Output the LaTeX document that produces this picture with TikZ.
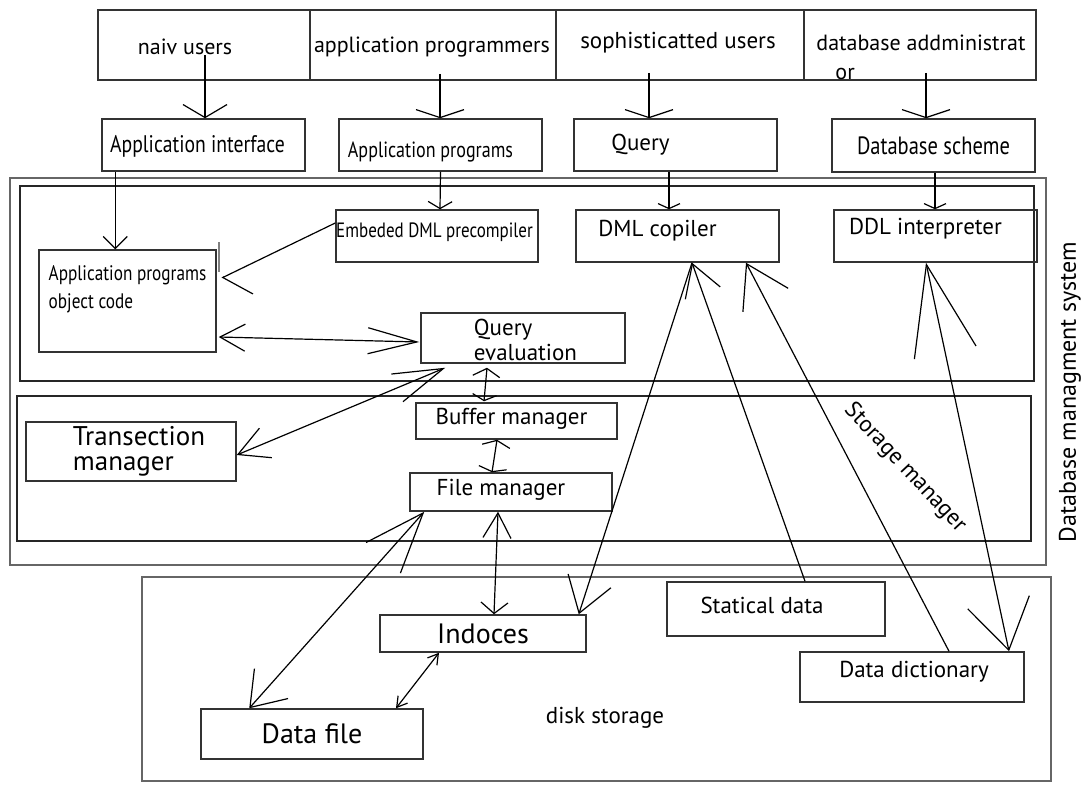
\documentclass[tikz,border=0pt]{standalone}
\usepackage{fontspec}
\setmainfont{PT Sans}
\newfontfamily\narrowfont{PT Sans}[FakeStretch=0.82]
\usetikzlibrary{arrows.meta,calc}

\begin{document}
\begin{tikzpicture}[x=1pt, y=-1pt,
    box/.style 2 args={draw=black!80, line width=1.5pt, minimum width=#1pt, minimum height=#2pt, inner sep=0pt},
    frame/.style={draw=black!60, line width=1.6pt},
    link/.style={line width=1.2pt},
    v/.style 2 args={link, -{Straight Barb[length=#1pt,width=#2pt]}},
    vv/.style n args={4}{link, {Straight Barb[length=#1pt,width=#2pt]}-{Straight Barb[length=#3pt,width=#4pt]}},
    nar/.style={font=\narrowfont\fontsize{#1}{28}\selectfont},
    big/.style={font=\fontsize{#1}{25}\selectfont},
    font=\fontsize{23}{25}\selectfont]
    \useasboundingbox (0,0) rectangle (1083,787);
    \fill[white] (0,0) rectangle (1083,787);

    % frames
    \draw[frame] (10,178) rectangle (1046,565);
    \draw[frame, draw=black!85, line width=1.3pt] (20,186) rectangle (1034,381);
    \draw[frame, draw=black!85, line width=1.3pt] (17,396) rectangle (1031,541);
    \draw[frame] (142,577) rectangle (1051,781);

    % users
    \node[box={212}{70}, label={[font=\fontsize{22}{25}\selectfont,xshift=-19pt,yshift=-2pt]center:naiv users}] (naiv) at (204,45) {};
    \node[box={246}{70}, label={[font=\fontsize{22}{25}\selectfont,xshift=-1pt,yshift=-2pt]center:application programmers}] (prog) at (433,45) {};
    \node[box={248}{70}, label={[xshift=-2pt,yshift=2pt]center:sophisticatted users}] (soph) at (680,45) {};
    \node[box={232}{70}, label={[align=left,font=\fontsize{22}{29}\selectfont,xshift=1pt,yshift=-12.5pt]center:database addministrat\\\hspace*{19pt}or}] (dba) at (920,45) {};

    % first row
    \node[box={203}{52}, label={[nar=24,xshift=-6pt,yshift=-1pt]center:Application interface}] (ai) at (203.5,145) {};
    \node[box={203}{52}, label={[nar=22,xshift=-10pt,yshift=-7pt]center:Application programs}] (ap) at (440.5,145) {};
    \node[box={203}{52}, label={[xshift=-35pt]center:Query}] (qry) at (675.5,145) {};
    \node[box={203}{53}, nar=25] (dbs) at (933.5,145.5) {Database scheme};

    % query processor
    \node[box={202}{52}, label={[nar=20.7,xshift=-2.5pt,yshift=4pt]center:Embeded DML precompiler}] (emb) at (437,236) {};
    \node[box={203}{52}, label={[xshift=-20pt,yshift=5pt]center:DML copiler}] (dmlc) at (677.5,236) {};
    \node[box={203}{52}, label={[xshift=-10pt,yshift=7pt]center:DDL interpreter}] (ddl) at (935.5,236) {};
    \node[box={177}{102}, label={[nar=21,align=left,yshift=12pt]center:Application programs\\object code}] (obj) at (127.5,301) {};
    \node[box={204}{50}, label={[align=left,xshift=2.5pt,yshift=-1.5pt]center:Query\\evaluation}] (qe) at (523,338) {};

    % storage manager
    \node[box={201}{36}, label={[xshift=-5pt,yshift=2pt]center:Buffer manager}] (buf) at (516.5,421) {};
    \node[box={210}{59}, label={[big=27,align=left,xshift=8pt]center:Transection\\manager}] (trn) at (131,451.5) {};
    \node[box={202}{38}, label={[xshift=-10pt,yshift=2pt]center:File manager}] (fil) at (511,492) {};

    % disk storage
    \node[box={206}{37}, big=28] (idx) at (483,633.5) {Indoces};
    \node[box={222}{50}, big=28] (dfile) at (312,734) {Data file};
    \node[box={218}{54}, label={[xshift=-14pt,yshift=4pt]center:Statical data}] (stat) at (776,609) {};
    \node[box={224}{50}, label={[xshift=2pt,yshift=5pt]center:Data dictionary}] (ddict) at (912,677) {};

    \node (dsk) at (605,718) {disk storage};
    \node[rotate=-47] (stm) at (905,468) {Storage manager};
    \node[rotate=90, font=\fontsize{24}{25}\selectfont] (dbms) at (1070,392) {Database managment system};

    % small mark on the object code box
    \draw[line width=2.5pt, black!50] ($(obj.north east)+(2,-7)$) -- ($(obj.north east)+(2,23)$);

    % users to interfaces
    \draw[v={13}{44}] ($(naiv.center)+(1,10)$) -- ($(ai.north)+(1.5,0)$);
    \draw[v={8}{48}] ($(prog.south)+(7,-7)$) -- ($(ap.north)+(-0.5,0)$);
    \draw[v={8}{48}] ($(soph.south)+(-31,-8)$) -- ($(qry.north)+(-26.5,0)$);
    \draw[v={8}{48}] ($(dba.south)+(6,-8)$) -- ($(dbs.north)+(-7.5,0)$);

    % interfaces to query processor
    \draw[v={12}{24}] ($(ai.south west)+(14,0)$) -- ($(obj.north west)+(77,0)$);
    \draw[v={7}{24}] (ap.south) -- ($(emb.north)+(3,0)$);
    \draw[v={5}{22}] ($(qry.south)+(-6.5,0)$) -- ($(dmlc.north)+(-8.5,0)$);
    \draw[v={5}{22}] ($(dbs.south)+(1.5,0)$) -- ($(ddl.north)+(-0.5,0)$);
    \draw[link, -{Straight Barb[length=20pt,width=56pt,left]}] ($(emb.west)+(0,-13)$) -- ($(obj.east)+(5,-23)$);
    \draw[vv={25}{27}{49}{26}] ($(obj.east)+(2,36)$) -- ($(qe.west)+(-1,4)$);

    % query evaluation and storage manager
    \draw[vv={50}{30}{30}{32}] ($(qe.south west)+(25,4)$) -- ($(trn.east)+(0,3.5)$);
    \draw[vv={8}{27}{6}{24}] ($(qe.south)+(-36,4)$) -- ($(buf.north)+(-32.5,-1)$);
    \draw[vv={6}{28}{4}{28}] ($(buf.south)+(-19.5,0)$) -- ($(fil.north)+(-19,0)$);

    % storage manager and disk
    \draw[vv={60}{46}{32}{45}] ($(fil.south west)+(15,0)$) -- ($(dfile.north west)+(49,0)$);
    \draw[vv={25}{28}{11}{27}] ($(fil.south)+(-13,0)$) -- ($(idx.north)+(11,0)$);
    \draw[vv={10}{12}{10}{12}] ($(idx.south)+(-44,0)$) -- ($(dfile.north)+(84,0)$);

    % long links to the compilers
    \draw[v={34}{45}] ($(dmlc.south)+(14.5,0)$) -- ($(idx.north east)+(-8,0)$);
    \draw[v={31}{37}] ($(stat.north)+(29,0)$) -- ($(dmlc.south)+(14.5,0)$);
    \draw[v={41}{51}] ($(ddict.north)+(37,0)$) -- ($(dmlc.south)+(68.5,0)$);
    \draw[vv={90}{63}{49}{63}] ($(ddl.south)+(-9.5,0)$) -- ($(ddict.north)+(97,0)$);
\end{tikzpicture}
\end{document}
